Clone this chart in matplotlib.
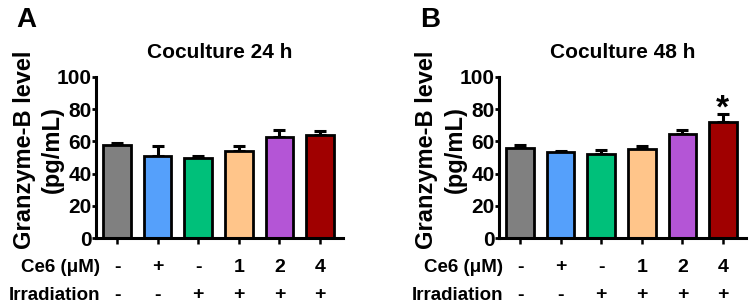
import matplotlib
matplotlib.use("Agg")
import matplotlib.pyplot as plt
import numpy as np

plt.rcParams['font.family'] = ['Liberation Sans', 'DejaVu Sans']
plt.rcParams['font.weight'] = 'bold'

groups = ["1", "2", "3", "4", "5", "6"]
ce6_labels = ["-", "+", "-", "1", "2", "4"]
irr_labels = ["-", "-", "+", "+", "+", "+"]
colors = ["#808080", "#55a0fb", "#00c07a", "#ffc58a", "#b455d6", "#a00000"]

mean_24 = [57.6, 51.0, 50.0, 54.0, 62.8, 64.0]
err_24 = [1.2, 6.0, 1.0, 3.0, 4.5, 2.2]
mean_48 = [56.0, 53.3, 52.3, 55.4, 64.3, 72.3]
err_48 = [1.8, 0.7, 2.2, 1.5, 3.0, 5.0]

W, H = 749, 307
panels = [
    ("A", "Coculture 24 h", mean_24, err_24, None, 96, 26),
    ("B", "Coculture 48 h", mean_48, err_48, 5, 499, 430),
]

fig = plt.figure(figsize=(7.49, 3.07), dpi=100)
ax_w = 247 / W
ax_b = 1 - 238 / H
ax_h = (238 - 77) / H

for letter, title, means, errs, star_idx, left_px, letter_px in panels:
    ax = fig.add_axes([left_px / W, ax_b, ax_w, ax_h])
    x = np.arange(len(groups))
    ax.bar(x, means, width=0.68, color=colors, edgecolor="black", linewidth=2.0, zorder=2)
    ax.errorbar(x, means, yerr=[np.zeros(len(errs)), errs], fmt="none", ecolor="black",
                elinewidth=2.2, capsize=4.5, capthick=2.2, zorder=1)
    ax.set_ylim(0, 100)
    ax.set_xlim(-0.52, 5.57)
    ax.set_yticks([0, 20, 40, 60, 80, 100])
    ax.set_xticks(x)
    ax.set_xticklabels([])
    for s in ["top", "right"]:
        ax.spines[s].set_visible(False)
    for s in ["left", "bottom"]:
        ax.spines[s].set_linewidth(2.2)
    ax.tick_params(axis="y", direction="out", width=2.0, length=3, labelsize=15, pad=0)
    ax.tick_params(axis="x", direction="out", width=1.8, length=4)
    for lbl in ax.get_yticklabels():
        lbl.set_fontweight("bold")
    ax.text(0.5, 1 + 25 / 161, title, transform=ax.transAxes, ha="center", va="center",
            fontsize=15, fontweight="bold")
    fig.text((left_px - 72) / W, 1 - 150 / H, "Granzyme-B level", rotation=90,
             ha="center", va="center", fontsize=17, fontweight="bold")
    fig.text((left_px - 44) / W, 1 - 150 / H, "(pg/mL)", rotation=90,
             ha="center", va="center", fontsize=17, fontweight="bold")
    if star_idx is not None:
        ax.text(x[star_idx], means[star_idx] + errs[star_idx] + 5.0, "*", ha="center",
                va="center_baseline", fontsize=24, fontweight="bold")
    trans = ax.get_xaxis_transform()
    y1 = -29 / 161
    y2 = -57 / 161
    for i in range(len(groups)):
        ax.text(x[i], y1, ce6_labels[i], transform=trans, ha="center", va="center",
                fontsize=14, fontweight="bold")
        ax.text(x[i], y2, irr_labels[i], transform=trans, ha="center", va="center",
                fontsize=14, fontweight="bold")
    ax.text(0.016, y1, "Ce6 (\u03bcM)", transform=ax.transAxes, ha="right", va="center",
            fontsize=13.5, fontweight="bold")
    ax.text(0.016, y2, "Irradiation", transform=ax.transAxes, ha="right", va="center",
            fontsize=13.5, fontweight="bold")
    fig.text(letter_px / W, 1 - 20 / H, letter, ha="center", va="center", fontsize=20,
             fontweight="bold")

fig.savefig("out.png", dpi=100)
